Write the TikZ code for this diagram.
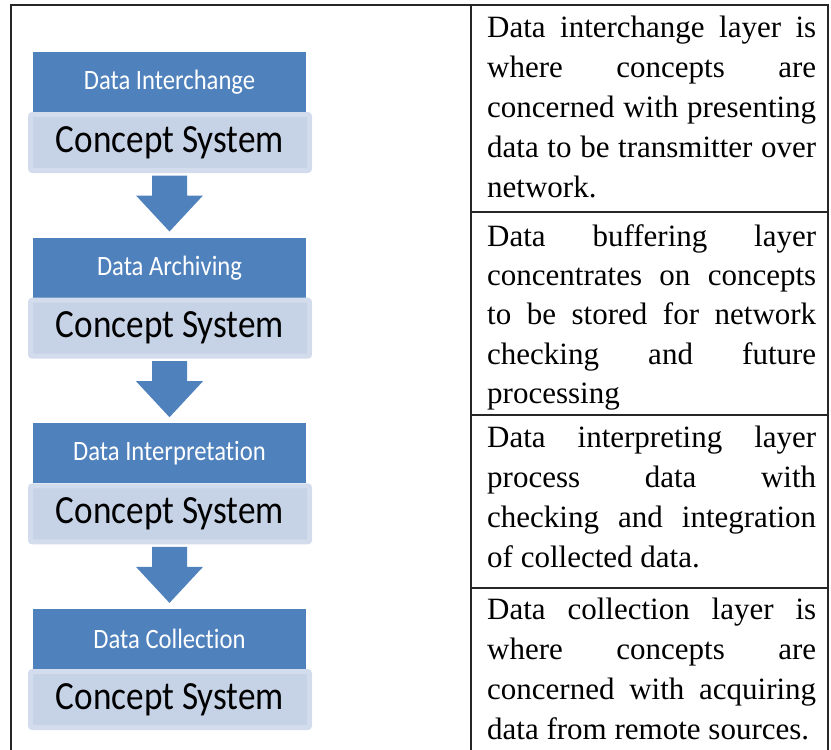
\documentclass[tikz,border=0pt]{standalone}
\usepackage{fontspec}
\setmainfont{Liberation Serif}
\newfontfamily\calfont[FakeStretch=0.88,Ligatures=NoCommon]{Carlito}
\usetikzlibrary{calc}

\definecolor{layerblue}{HTML}{4F81BD}
\definecolor{conceptfill}{HTML}{C6D2E6}
\definecolor{conceptring}{HTML}{D3DCEC}
\definecolor{rulecolor}{HTML}{262626}

% one justified line of a description cell
\newcommand{\jline}[1]{\makebox[\linewidth][s]{#1}}

\begin{document}
\begin{tikzpicture}[x=1pt,y=-1pt,
  layer/.style={fill=layerblue, inner sep=0pt, minimum width=273pt,
    minimum height=60pt, text=white, font=\calfont\fontsize{28}{30}\selectfont},
  concept/.style={fill=conceptfill, draw=conceptring, line width=5pt,
    rounded corners=2pt, inner sep=0pt, minimum width=279pt, minimum height=56pt,
    font=\calfont\fontsize{40}{44}\selectfont},
  flowarrow/.style={fill=layerblue},
  tablerule/.style={draw=rulecolor, line width=2pt},
  cell/.style={anchor=base west, inner sep=0pt}]
\useasboundingbox (0,0) rectangle (831,750);

% table frame
\draw[tablerule] (11,770) -- (11,5) -- (828,5) -- (828,770);
\draw[tablerule] (471,5) -- (471,770);
\draw[tablerule] (471,212) -- (828,212);
\draw[tablerule] (471,415) -- (828,415);
\draw[tablerule] (471,588) -- (828,588);

% layer stack
\node[layer] (l1) at (169.5,82) {Data Interchange};
\node[concept] (c1) at (170,142.5) {Concept System};
\node[layer] (l2) at (169.5,267.7) {Data Archiving};
\node[concept] (c2) at (170,328.2) {Concept System};
\node[layer] (l3) at (169.5,453.4) {Data Interpretation};
\node[concept] (c3) at (170,513.9) {Concept System};
\node[layer] (l4) at (169.5,639.1) {Data Collection};
\node[concept] (c4) at (170,699.6) {Concept System};

% block arrows between the layers
\foreach \a/\b in {c1/l2, c2/l3, c3/l4}{
  \fill[flowarrow] ($(\a.south)+(-18,2.5)$) -- ($(\a.south)+(-18,22.5)$)
    -- ($(\a.south)+(-34,22.5)$) -- ($(\b.north)+(0,-6)$)
    -- ($(\a.south)+(33,22.5)$) -- ($(\a.south)+(17,22.5)$)
    -- ($(\a.south)+(17,2.5)$) -- cycle;
}

% descriptions
\node[cell] (d1) at (487,37) {\parbox[t]{329pt}{\fontsize{31}{40}\selectfont
  \jline{Data interchange layer is}\\
  \jline{where concepts are}\\
  \jline{concerned with presenting}\\
  \jline{data to be transmitter over}\\
  network.}};
\node[cell] (d2) at (487,246) {\parbox[t]{329pt}{\fontsize{31}{39.4}\selectfont
  \jline{Data buffering layer}\\
  \jline{concentrates on concepts}\\
  \jline{to be stored for network}\\
  \jline{checking and future}\\
  processing}};
\node[cell] (d3) at (487,447) {\parbox[t]{329pt}{\fontsize{31}{40}\selectfont
  \jline{Data interpreting layer}\\
  \jline{process data with}\\
  \jline{checking and integration}\\
  of collected data.}};
\node[cell] (d4) at (487,619) {\parbox[t]{329pt}{\fontsize{31}{40}\selectfont
  \jline{Data collection layer is}\\
  \jline{where concepts are}\\
  \jline{concerned with acquiring}\\
  data from remote sources.}};
\end{tikzpicture}
\end{document}
